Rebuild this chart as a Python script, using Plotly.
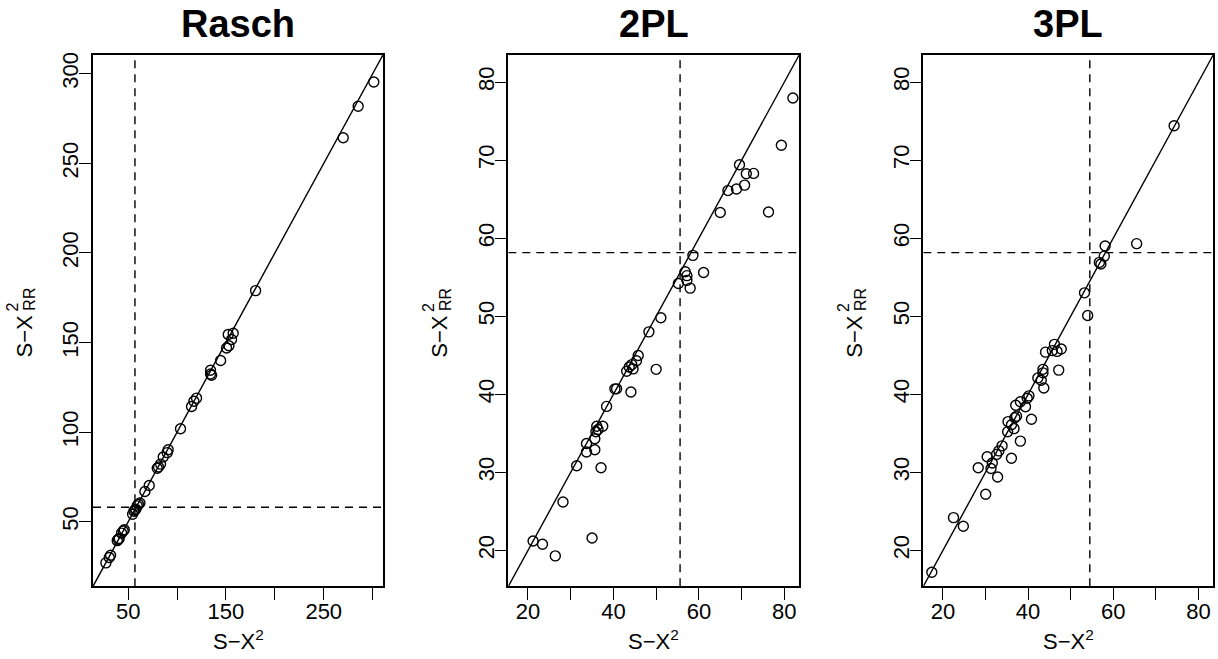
import plotly.graph_objects as go

# ---------------- data ----------------
panel_titles = ["Rasch", "2PL", "3PL"]

rasch_x = [301.2, 285.2, 269.9, 180.3, 157.4, 152.3, 155.7, 153.0, 150.6, 144.5,
           134.2, 135.3, 134.2, 119.9, 117.2, 114.8, 103.5, 90.9, 89.9, 85.8,
           83.1, 79.7, 81.0, 71.5, 67.1, 62.0, 60.5, 59.2, 57.9, 56.8,
           55.8, 54.5, 44.9, 46.0, 43.2, 40.8, 39.8, 38.8, 32.0, 30.6, 27.2]
rasch_y = [295.4, 281.9, 264.3, 179.0, 155.2, 154.5, 151.7, 148.2, 147.0, 140.0,
           134.6, 131.8, 132.5, 119.0, 117.3, 114.3, 101.9, 90.2, 88.6, 86.2,
           82.2, 79.9, 80.6, 70.3, 66.9, 60.5, 59.8, 58.9, 57.0, 56.6,
           55.9, 54.2, 44.9, 45.6, 43.7, 40.7, 40.2, 39.5, 31.3, 30.1, 27.1]

pl2_x = [82.0, 79.3, 69.5, 71.1, 72.8, 70.7, 68.8, 66.8, 65.0, 76.3,
         58.6, 61.1, 56.8, 57.2, 55.2, 57.2, 57.96, 51.1, 48.3, 45.8,
         45.4, 44.6, 44.3, 43.7, 43.1, 50.0, 44.1, 40.75, 40.35, 38.4,
         37.5, 36.1, 36.4, 35.9, 35.65, 33.7, 33.7, 35.65, 37.1, 31.4,
         28.2, 21.2, 23.4, 26.4, 35.0]
pl2_y = [77.96, 71.9, 69.4, 68.25, 68.3, 66.8, 66.3, 66.1, 63.3, 63.35,
         57.8, 55.6, 55.7, 55.2, 54.2, 54.6, 53.6, 49.8, 48.0, 44.97,
         44.3, 43.26, 43.8, 43.5, 42.96, 43.2, 40.3, 40.7, 40.7, 38.45,
         35.9, 35.9, 35.5, 35.2, 34.3, 33.7, 32.6, 32.9, 30.6, 30.85,
         26.2, 21.2, 20.8, 19.3, 21.6]

pl3_x = [74.3, 65.5, 58.1, 57.9, 56.75, 57.1, 53.25, 54.0, 46.2, 47.8,
         46.8, 45.7, 44.1, 47.2, 43.5, 43.5, 42.3, 43.1, 43.7, 40.2,
         39.8, 38.2, 37.1, 39.4, 37.3, 36.9, 40.8, 35.3, 36.1, 36.7,
         35.2, 38.2, 33.9, 33.15, 32.6, 30.4, 36.1, 31.6, 31.3, 28.3,
         32.85, 30.05, 22.5, 24.8, 17.4]
pl3_y = [74.4, 59.3, 59.0, 57.7, 56.9, 56.7, 53.0, 50.1, 46.4, 45.8,
         45.5, 45.6, 45.4, 43.1, 43.2, 42.75, 42.1, 41.8, 40.8, 39.8,
         39.5, 39.05, 38.6, 38.4, 37.2, 37.0, 36.8, 36.5, 36.1, 35.6,
         35.2, 34.0, 33.4, 32.75, 32.3, 32.0, 31.8, 31.2, 30.5, 30.6,
         29.4, 27.2, 24.2, 23.1, 17.2]

# critical values (dashed reference lines)
crit_x = [56.9, 55.6, 54.5]
crit_y = [58.1, 58.15, 58.15]

# axis limits (x and y share the same limits in each panel)
limits = [[14.0, 310.6], [15.4, 83.5], [15.4, 83.5]]

# tick values / labels
rasch_xticks = [50, 100, 150, 200, 250, 300]
rasch_xlabels = ["50", "", "150", "", "250", ""]
rasch_yticks = [50, 100, 150, 200, 250, 300]
pl_xticks = [20, 30, 40, 50, 60, 70, 80]
pl_xlabels = ["20", "", "40", "", "60", "", "80"]
pl_yticks = [20, 30, 40, 50, 60, 70, 80]

# ---------------- layout geometry (pixels) ----------------
W, H = 1218, 659
box_left = [93, 508.3, 923.3]
box_right = [383, 799.3, 1213.3]
box_top, box_bottom = 52, 586

FONT = "Liberation Sans, Arial, Helvetica, sans-serif"
TICK_SIZE = 22


def px(x):
    return x / W


def py(y):
    return 1 - y / H


xs = [rasch_x, pl2_x, pl3_x]
ys = [rasch_y, pl2_y, pl3_y]
xticks = [rasch_xticks, pl_xticks, pl_xticks]
xlabels = [rasch_xlabels, pl_xlabels, pl_xlabels]
yticks = [rasch_yticks, pl_yticks, pl_yticks]

fig = go.Figure()
shapes = []
annotations = []
layout = {}

for i in range(3):
    sfx = "" if i == 0 else str(i + 1)
    xa, ya = "x" + sfx, "y" + sfx
    lo, hi = limits[i]

    fig.add_trace(go.Scatter(
        x=xs[i], y=ys[i], mode="markers", xaxis=xa, yaxis=ya,
        marker=dict(symbol="circle-open", size=10, color="black",
                    line=dict(width=1.4, color="black")),
        showlegend=False, hoverinfo="x+y"))

    axis_common = dict(
        showline=True, linecolor="black", linewidth=1.5, mirror=True,
        ticks="outside", ticklen=12, tickwidth=1.4, tickcolor="black",
        showgrid=False, zeroline=False,
        tickfont=dict(family=FONT, size=TICK_SIZE, color="black"),
        range=[lo, hi], fixedrange=True)

    layout["xaxis" + sfx] = dict(
        axis_common, domain=[px(box_left[i]), px(box_right[i])],
        anchor=ya, tickmode="array", tickvals=xticks[i], ticktext=xlabels[i],
        ticklabelstandoff=-7)
    layout["yaxis" + sfx] = dict(
        axis_common, domain=[py(box_bottom), py(box_top)],
        anchor=xa, tickmode="array", tickvals=yticks[i],
        ticktext=[str(v) for v in yticks[i]], tickangle=-90,
        ticklabelstandoff=-8)

    # identity line
    shapes.append(dict(type="line", xref=xa, yref=ya, x0=lo, y0=lo, x1=hi, y1=hi,
                       line=dict(color="black", width=1.4)))
    # dashed reference lines
    shapes.append(dict(type="line", xref=xa, yref=ya, x0=crit_x[i], x1=crit_x[i],
                       y0=lo, y1=hi, line=dict(color="black", width=1.4, dash="8px,6px")))
    shapes.append(dict(type="line", xref=xa, yref=ya, x0=lo, x1=hi,
                       y0=crit_y[i], y1=crit_y[i],
                       line=dict(color="black", width=1.4, dash="8px,6px")))

    cx = (box_left[i] + box_right[i]) / 2
    # panel title
    annotations.append(dict(
        text="<b>%s</b>" % panel_titles[i], x=px(cx), y=py(21), xref="paper", yref="paper",
        showarrow=False, xanchor="center", yanchor="middle",
        font=dict(family=FONT, size=38, color="black")))
    # x-axis title
    annotations.append(dict(
        text="S\u2212X<sup>2</sup>", x=px(cx), y=py(640), xref="paper", yref="paper",
        showarrow=False, xanchor="center", yanchor="middle",
        font=dict(family=FONT, size=TICK_SIZE, color="black")))
    # y-axis title: S-X with stacked superscript 2 and subscript RR
    bx = box_left[i]
    annotations.append(dict(
        text="S\u2212X", x=px(bx - 69), y=py(335), xref="paper", yref="paper",
        showarrow=False, xanchor="center", yanchor="middle", textangle=-90,
        font=dict(family=FONT, size=TICK_SIZE, color="black")))
    annotations.append(dict(
        text="2", x=px(bx - 80), y=py(306), xref="paper", yref="paper",
        showarrow=False, xanchor="center", yanchor="middle", textangle=-90,
        font=dict(family=FONT, size=16, color="black")))
    annotations.append(dict(
        text="RR", x=px(bx - 63), y=py(298), xref="paper", yref="paper",
        showarrow=False, xanchor="center", yanchor="middle", textangle=-90,
        font=dict(family=FONT, size=16, color="black")))

fig.update_layout(
    width=W, height=H,
    margin=dict(l=0, r=0, t=0, b=0),
    paper_bgcolor="white", plot_bgcolor="white",
    shapes=shapes, annotations=annotations,
    font=dict(family=FONT, color="black"),
    **layout)

fig.write_html(
    "out.html",
    config={"displayModeBar": False},
    post_script="document.body.style.margin='0';document.body.style.padding='0';"
                "document.documentElement.style.overflow='hidden';")
